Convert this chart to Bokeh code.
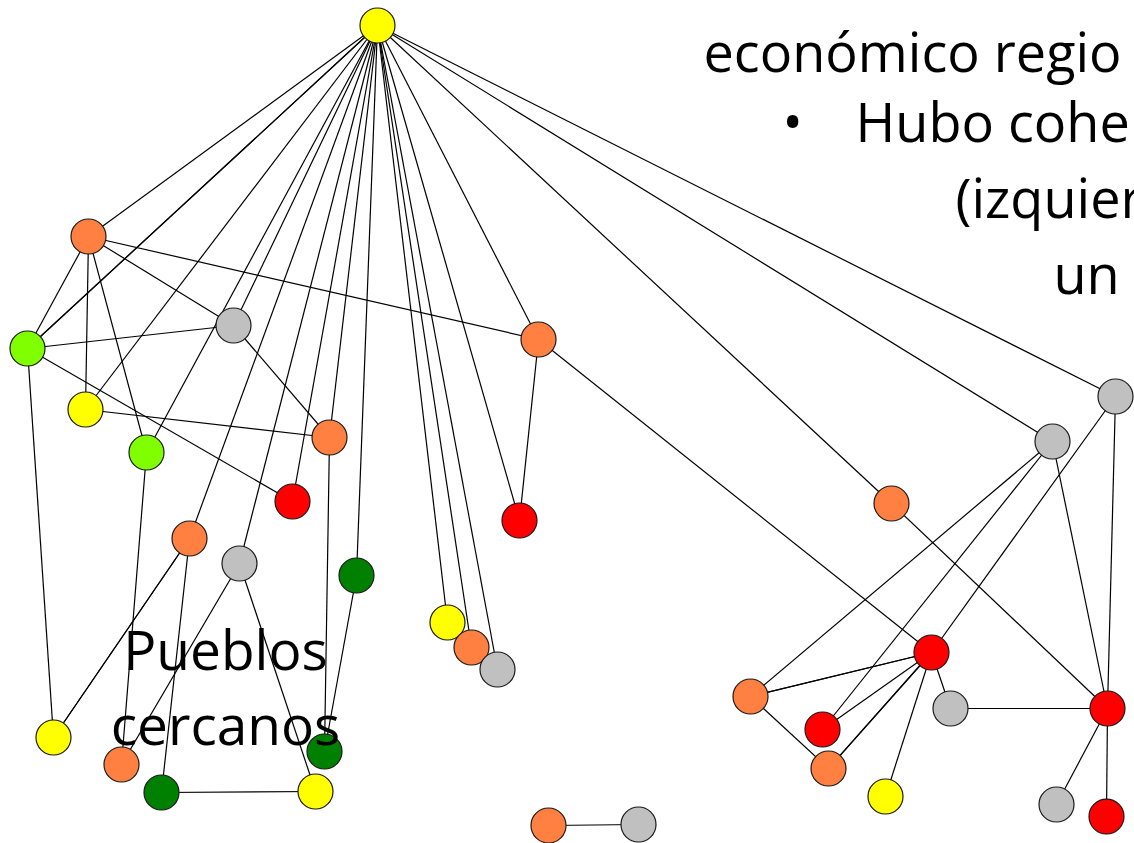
from bokeh.plotting import figure
from bokeh.models import Range1d, ColumnDataSource
from bokeh.embed import file_html
from bokeh.resources import INLINE
from bokeh.core.properties import value

# ---- data: nodes (positions) ----
node_x = [377, 88, 27, 233, 85, 146, 329, 292, 538, 519,
          189, 239, 356, 53, 121, 161, 315, 324, 447, 471,
          497, 891, 1052, 1115, 931, 750, 950, 1107, 822, 828,
          885, 1056, 1106, 548, 638]
node_y = [25, 236, 348, 325, 409, 452, 437, 501, 339, 520,
          538, 563, 575, 737, 764, 792, 791, 751, 622, 647,
          669, 503, 441, 396, 652, 696, 708, 708, 729, 768,
          796, 804, 816, 825, 824]
node_group = ["yellow", "orange", "lime", "gray", "yellow", "lime", "orange", "red", "orange", "red",
              "orange", "gray", "dkgreen", "yellow", "orange", "dkgreen", "yellow", "dkgreen", "yellow", "orange",
              "gray", "orange", "gray", "gray", "red", "orange", "gray", "red", "red", "orange",
              "yellow", "gray", "red", "orange", "gray"]

# ---- data: edges (node index pairs) ----
edge_src = [0, 0, 0, 0, 0, 0, 0, 0, 0, 0, 0, 0, 0, 0, 0, 0, 0, 0, 0,
            1, 1, 1, 1, 1, 2, 2, 2, 4, 3, 5, 10, 10, 10, 11, 11, 15, 12, 6, 8, 8,
            21, 22, 22, 22, 23, 23, 24, 24, 24, 24, 24, 24, 24, 25, 26, 27, 27, 33]
edge_dst = [1, 2, 2, 4, 5, 3, 10, 11, 7, 6, 12, 18, 19, 20, 9, 8, 21, 22, 23,
            2, 4, 5, 3, 8, 3, 7, 13, 6, 6, 14, 13, 13, 15, 14, 16, 16, 17, 17, 9, 24,
            27, 25, 28, 27, 24, 27, 25, 25, 28, 29, 29, 30, 26, 29, 27, 31, 32, 34]

# ---- text ----
label_lines = ["Pueblos", "cercanos"]
slide_lines = ["económico regio", "Hubo cohe", "(izquier", "un"]
bullet = "•"

palette = {"yellow": "#FFFF00", "orange": "#FF8040", "lime": "#80FF00", "gray": "#C0C0C0",
           "red": "#FF0000", "dkgreen": "#008000"}

W, H = 1134, 843
p = figure(width=W, height=H, output_backend="svg", toolbar_location=None,
           x_range=Range1d(0, W), y_range=Range1d(H, 0),
           min_border=0, outline_line_color=None, background_fill_color="white")
p.axis.visible = False
p.grid.visible = False

edges = ColumnDataSource(dict(
    x0=[node_x[i] for i in edge_src], y0=[node_y[i] for i in edge_src],
    x1=[node_x[j] for j in edge_dst], y1=[node_y[j] for j in edge_dst]))
p.segment("x0", "y0", "x1", "y1", source=edges, line_color="black", line_width=1.2)

nodes = ColumnDataSource(dict(x=node_x, y=node_y, c=[palette[g] for g in node_group]))
p.scatter("x", "y", source=nodes, size=35, fill_color="c", line_color="#1a1a1a", line_width=1.2)

font = value("Open Sans")
p.text(x=[225, 225], y=[648, 723], text=label_lines, text_font=font,
       text_font_size="55px", text_align="center", text_baseline="alphabetic", text_color="black")
p.text(x=[703, 855, 955, 1053], y=[50, 120, 196, 272], text=slide_lines, text_font=font,
       text_font_size="54px", text_align="left", text_baseline="alphabetic", text_color="black")
p.text(x=[782], y=[120], text=[bullet], text_font=font,
       text_font_size="54px", text_align="left", text_baseline="alphabetic", text_color="black")

open("out.html", "w").write(file_html(p, INLINE))
